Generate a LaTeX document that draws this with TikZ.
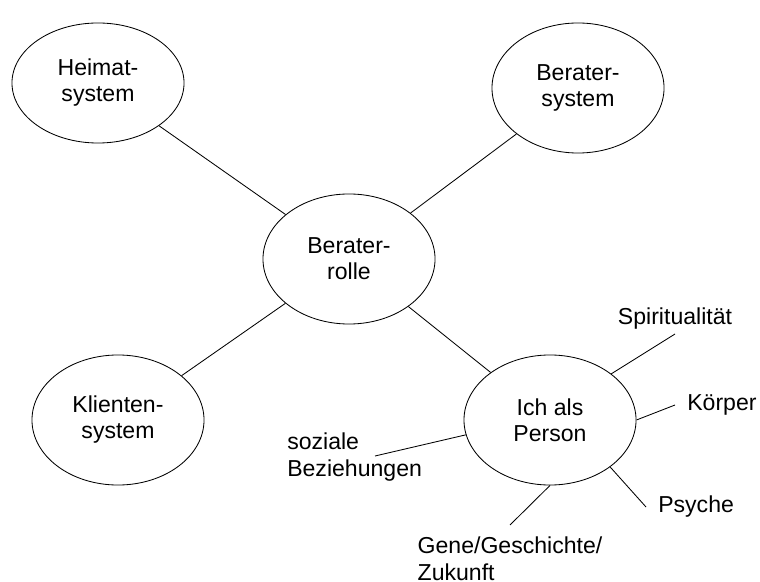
\documentclass[tikz,border=0pt]{standalone}
\usepackage{fontspec}
\setmainfont{Liberation Sans}
\usepackage{tikz}
\usetikzlibrary{shapes.geometric}

\begin{document}
\begin{tikzpicture}[x=0.025cm,y=-0.025cm]
\tikzstyle{sys}=[ellipse,draw=black,line width=0.6pt,inner sep=0pt,minimum width=4.3cm,minimum height=3.25cm,align=center,font=\fontsize{16.4}{18.5}\selectfont]
\tikzstyle{leaf}=[inner sep=0.3cm,align=left,font=\fontsize{16.4}{18.5}\selectfont]
\tikzstyle{link}=[line width=0.6pt]
\useasboundingbox (0,0) rectangle (760,582);

% Systems round the role
\node (HS) [sys,minimum height=3cm] at (98,83) {Heimat-\\system};
\node (BS) [sys] at (578,88) {Berater-\\system};
\node (BR) [sys] at (349,259) {Berater-\\rolle};
\node (KS) [sys] at (118,420) {Klienten-\\system};
\node (IP) [sys] at (550,420) {Ich als\\Person};

% Aspects of the person
\node (SP) [leaf,inner ysep=0.12cm,anchor=south] at (675,334) {Spiritualität};
\node (KOE) [leaf,anchor=west] at (675,405) {Körper};
\node (PSY) [leaf,anchor=west] at (646,507) {Psyche};
\node (GEN) [leaf,anchor=north] at (510,525) {Gene/Geschichte/\\Zukunft};
\node (SOZ) [leaf,anchor=north west] at (275,421) {soziale\\Beziehungen};
\coordinate (SOZE) at (375,456);

\draw[link] (HS) -- (BR);
\draw[link] (BS) -- (BR);
\draw[link] (KS) -- (BR);
\draw[link] (BR) -- (IP);

\draw[link] (IP.37) -- (SP.south);
\draw[link] (IP.east) -- (KOE.west);
\draw[link] (IP.-38) -- (PSY.west);
\draw[link] (IP.south) -- (GEN.north);
\draw[link] (IP.190) -- (SOZE);

\end{tikzpicture}
\end{document}
